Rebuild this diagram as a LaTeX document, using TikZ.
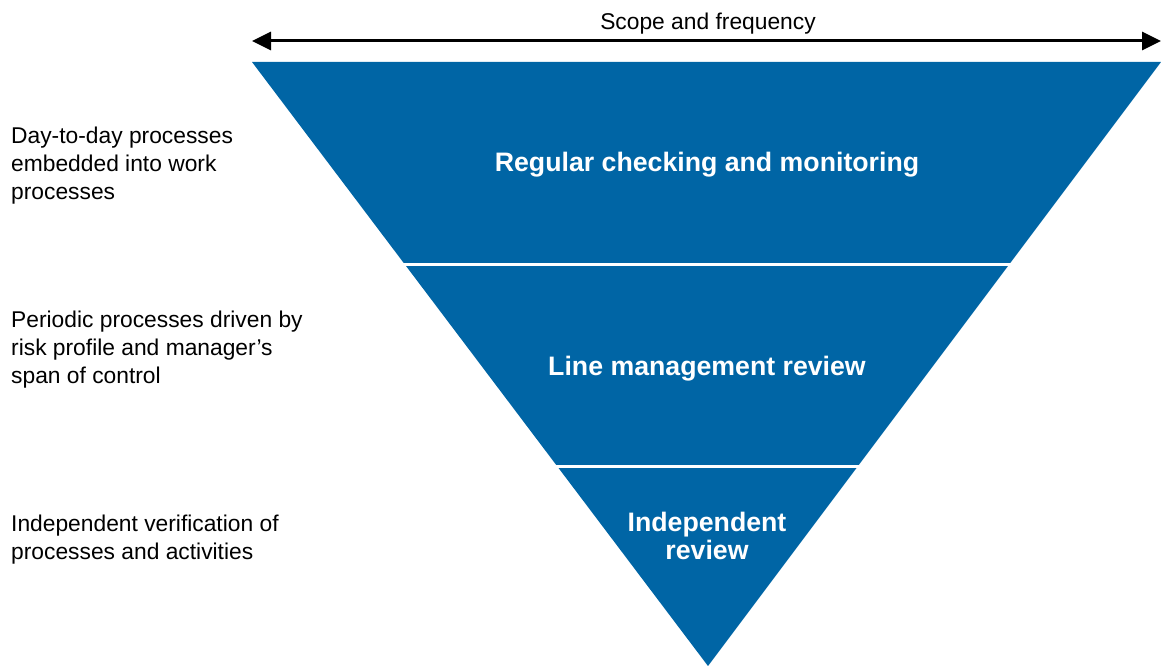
\documentclass[tikz,border=0pt]{standalone}
\usepackage{fontspec}
\setmainfont{Liberation Sans}
\usepackage{tikz}
\usetikzlibrary{arrows.meta}
\definecolor{pyrblue}{RGB}{0,101,165}

\begin{document}
\begin{tikzpicture}[x=1pt,y=-1pt,
    note/.style={anchor=west,align=left,inner sep=0pt,
      font=\fontsize{22.8}{28}\selectfont},
    band/.style={align=center,inner sep=0pt,text=white,
      font=\fontsize{26.7}{27.5}\selectfont\bfseries}]
  \useasboundingbox (0,0) rectangle (1161,666);
  \fill[pyrblue] (252,62) -- (1161,62) -- (708,666) -- cycle;
  \draw[white,line width=3pt] (390,264.5) -- (1020,264.5);
  \draw[white,line width=3pt] (540,466.5) -- (870,466.5);
  \coordinate (arrowL) at (252,41);
  \coordinate (arrowR) at (1161,41);
  \draw[{Triangle[length=19pt,width=18pt]}-{Triangle[length=19pt,width=18pt]},line width=3pt]
    (arrowL) -- (arrowR);
  \node[inner sep=0pt,font=\fontsize{22.8}{28}\selectfont] (scope) at (708,24) {Scope and frequency};
  \node[band] (regular) at (707,165) {Regular checking and monitoring};
  \node[band] (linemgmt) at (707,369) {Line management review};
  \node[band] (indep) at (707,536) {Independent\\review};
  \node[note] (daynote) at (11,166) {Day-to-day processes\\embedded into work\\processes};
  \node[note] (periodnote) at (11,350) {Periodic processes driven by\\risk profile and manager’s\\span of control};
  \node[note] (verifnote) at (11,540) {Independent verification of\\processes and activities};
\end{tikzpicture}
\end{document}
